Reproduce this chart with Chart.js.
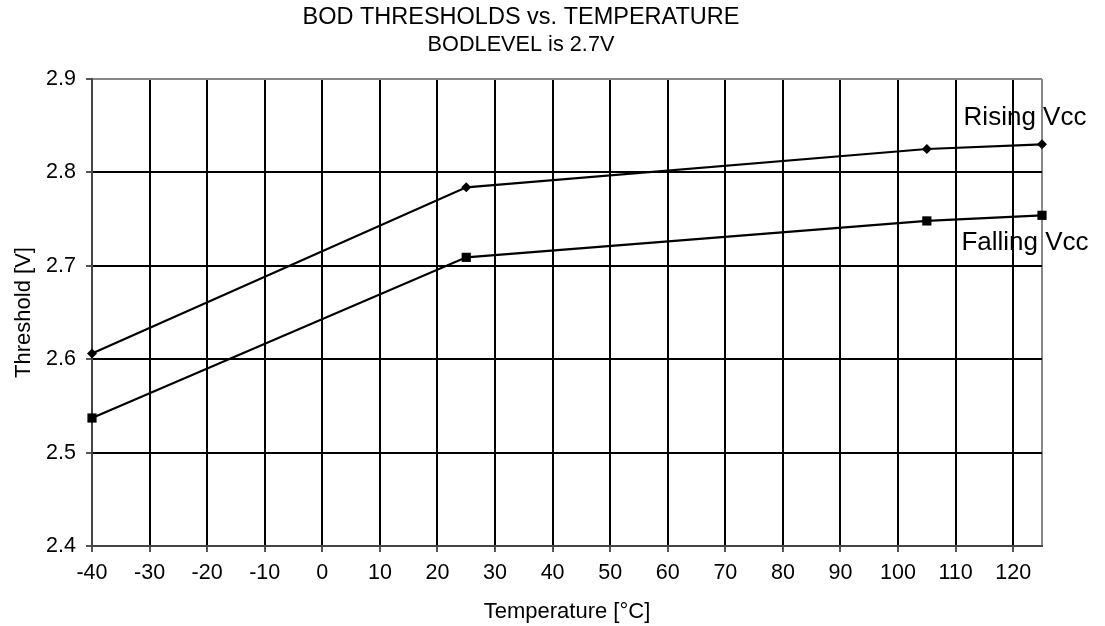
<!DOCTYPE html>
<html>
<head>
<meta charset="utf-8">
<script src="https://cdn.jsdelivr.net/npm/chart.js@4.4.1/dist/chart.umd.min.js"></script>
<style>
  html, body { margin: 0; padding: 0; background: #fff; }
  #wrap { width: 1105px; height: 626px; }
</style>
</head>
<body>
<div id="wrap"><canvas id="chart" width="1105" height="626"></canvas></div>
<script>
// values
const temperatures = [-40, 25, 105, 125];
const risingVcc = [2.606, 2.784, 2.825, 2.830];
const fallingVcc = [2.537, 2.709, 2.748, 2.754];
const seriesNames = ['Rising Vcc', 'Falling Vcc'];

const xTicks = [-40, -30, -20, -10, 0, 10, 20, 30, 40, 50, 60, 70, 80, 90, 100, 110, 120, 125];
const yTicks = [2.4, 2.5, 2.6, 2.7, 2.8, 2.9];

const FONT = "'Liberation Sans', Arial, Helvetica, sans-serif";

const toPoints = (ys) => temperatures.map((t, i) => ({ x: t, y: ys[i] }));

// writes the series name near the last point of each line
const seriesLabels = {
    id: 'seriesLabels',
    afterDatasetsDraw(chart) {
        const ctx = chart.ctx;
        const offsets = [-27, 28];
        ctx.save();
        ctx.font = '26px ' + FONT;
        ctx.fillStyle = '#000';
        ctx.textAlign = 'center';
        ctx.textBaseline = 'middle';
        chart.data.datasets.forEach((ds, i) => {
            const pts = chart.getDatasetMeta(i).data;
            const last = pts[pts.length - 1];
            ctx.fillText(ds.label, last.x - 17, last.y + offsets[i]);
        });
        ctx.restore();
    }
};

new Chart(document.getElementById('chart'), {
    type: 'scatter',
    data: {
        datasets: [
            {
                label: seriesNames[0],
                data: toPoints(risingVcc),
                showLine: true,
                borderColor: '#000',
                borderWidth: 2.2,
                pointStyle: 'rectRot',
                pointRadius: 5,
                pointBackgroundColor: '#000',
                pointBorderColor: '#000',
                pointBorderWidth: 0,
                clip: false
            },
            {
                label: seriesNames[1],
                data: toPoints(fallingVcc),
                showLine: true,
                borderColor: '#000',
                borderWidth: 2.2,
                pointStyle: 'rect',
                pointRadius: 6.5,
                pointBackgroundColor: '#000',
                pointBorderColor: '#000',
                pointBorderWidth: 0,
                clip: false
            }
        ]
    },
    options: {
        responsive: false,
        animation: false,
        layout: { padding: { top: 0, left: 0, right: 63, bottom: 0 } },
        plugins: {
            legend: { display: false },
            tooltip: { enabled: false },
            title: {
                display: true,
                text: 'BOD THRESHOLDS vs. TEMPERATURE',
                color: '#000',
                font: { family: FONT, size: 23.5, weight: 'normal' },
                padding: { top: 3.4, bottom: 0 }
            },
            subtitle: {
                display: true,
                text: 'BODLEVEL is 2.7V',
                color: '#000',
                font: { family: FONT, size: 21.7, weight: 'normal' },
                padding: { top: 0.9, bottom: 20.4 }
            }
        },
        scales: {
            x: {
                type: 'linear',
                min: -40,
                max: 125,
                afterBuildTicks: (s) => { s.ticks = xTicks.map(v => ({ value: v })); },
                afterFit: (s) => { s.height = 80; },
                ticks: {
                    color: '#000',
                    font: { family: FONT, size: 21.5 },
                    padding: 8,
                    maxRotation: 0,
                    autoSkip: false,
                    callback: (v) => v === 125 ? '' : v
                },
                grid: {
                    color: (c) => c.tick.value === 125 ? '#888' : (c.tick.value === -40 ? '#444' : '#000'),
                    lineWidth: 2,
                    tickLength: 6,
                    tickColor: (c) => c.tick.value === 125 ? 'rgba(0,0,0,0)' : '#555'
                },
                border: { color: '#444', width: 2 },
                title: {
                    display: true,
                    text: 'Temperature [°C]',
                    color: '#000',
                    font: { family: FONT, size: 22 },
                    padding: { top: 0, bottom: 0.8 }
                }
            },
            y: {
                min: 2.4,
                max: 2.9,
                afterBuildTicks: (s) => { s.ticks = yTicks.map(v => ({ value: v })); },
                afterFit: (s) => { s.width = 92; },
                ticks: {
                    color: '#000',
                    font: { family: FONT, size: 21.5 },
                    padding: 10,
                    callback: (v) => v.toFixed(1)
                },
                grid: {
                    color: (c) => c.tick.value === 2.9 ? '#888' : (c.tick.value === 2.4 ? '#444' : '#000'),
                    lineWidth: 2,
                    tickLength: 6,
                    tickColor: '#555'
                },
                border: { color: '#444', width: 2 },
                title: {
                    display: true,
                    text: 'Threshold [V]',
                    color: '#000',
                    font: { family: FONT, size: 22 },
                    padding: { top: 10.8, bottom: 0 }
                }
            }
        }
    },
    plugins: [seriesLabels]
});
</script>
</body>
</html>
